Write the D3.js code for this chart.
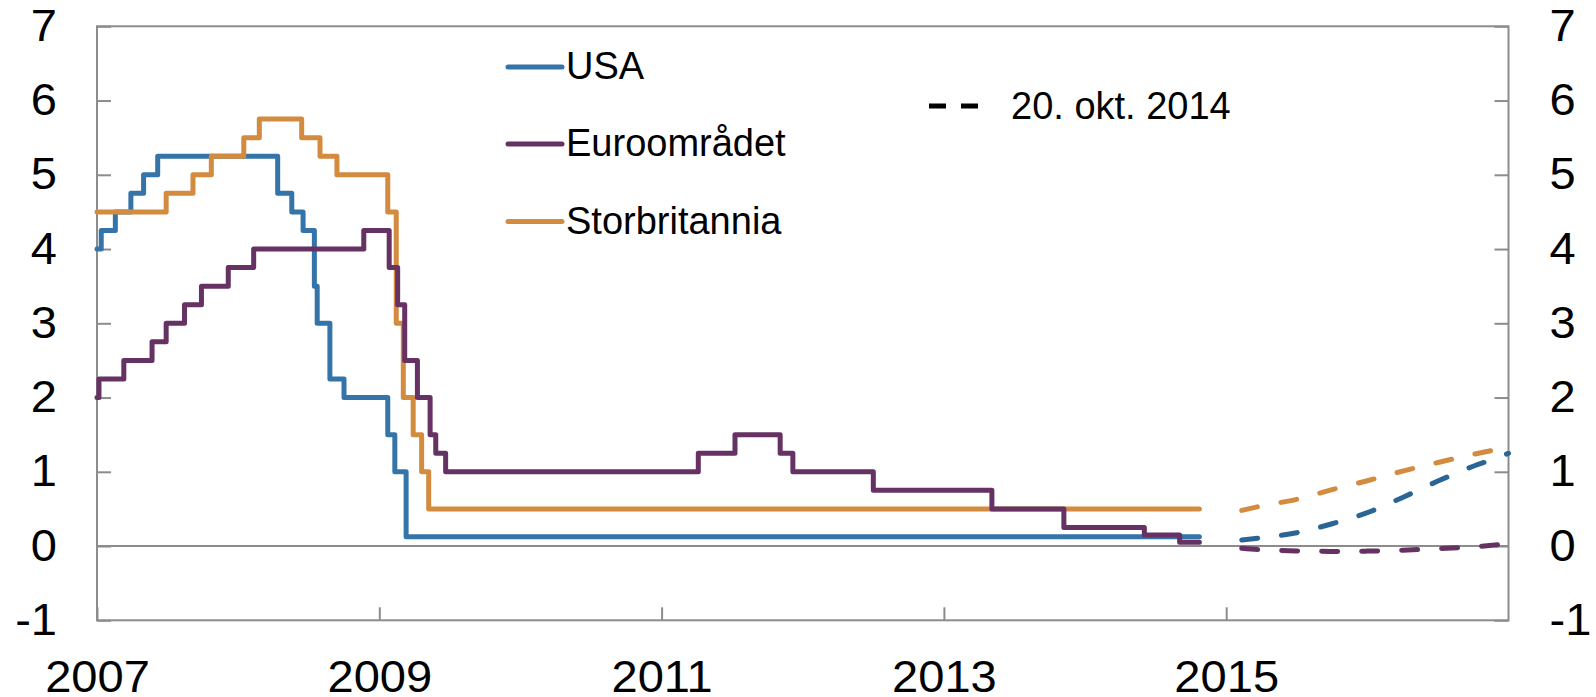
<!DOCTYPE html>
<html>
<head>
<meta charset="utf-8">
<script src="https://cdn.jsdelivr.net/npm/d3@7/dist/d3.min.js"></script>
<style>
  html, body { margin: 0; padding: 0; background: #fff; }
  svg { display: block; font-family: "Liberation Sans", Arial, sans-serif; }
</style>
</head>
<body>
<svg id="chart" width="1596" height="697"></svg>
<script>
// ---- Data (x in chart years, value applies from that point on: step-after) ----
const usaDates   = [2007.00, 2007.03, 2007.13, 2007.24, 2007.33, 2007.43, 2008.28, 2008.38, 2008.46, 2008.54, 2008.56, 2008.65, 2008.75, 2009.06, 2009.11, 2009.19, 2014.81];
const usaValues  = [4.00,    4.25,    4.50,    4.75,    5.00,    5.25,    4.75,    4.50,    4.25,    3.50,    3.00,    2.25,    2.00,    1.50,    1.00,    0.125,   0.125];

const euroDates  = [2007.00, 2007.014, 2007.19, 2007.39, 2007.49, 2007.62, 2007.74, 2007.93, 2008.11, 2008.89, 2009.07, 2009.13, 2009.18, 2009.27, 2009.36, 2009.40, 2009.47, 2011.26, 2011.52, 2011.84, 2011.93, 2012.50, 2013.34, 2013.85, 2014.42, 2014.67, 2014.81];
const euroValues = [2.00,    2.25,     2.50,    2.75,    3.00,    3.25,    3.50,    3.75,    4.00,    4.25,    3.75,    3.25,    2.50,    2.00,    1.50,    1.25,    1.00,    1.25,    1.50,    1.25,    1.00,    0.75,    0.50,    0.25,    0.15,    0.05,    0.05];

const ukDates    = [2007.00, 2007.49, 2007.68, 2007.81, 2008.04, 2008.15, 2008.45, 2008.58, 2008.70, 2009.06, 2009.12, 2009.17, 2009.24, 2009.30, 2009.35, 2014.81];
const ukValues   = [4.50,    4.75,    5.00,    5.25,    5.50,    5.75,    5.50,    5.25,    5.00,    4.50,    3.00,    2.00,    1.50,    1.00,    0.50,    0.50];

// Forward rates 20 Oct 2014 (dashed)
const fwdDates     = [2015.11, 2015.25, 2015.50, 2015.75, 2016.00, 2016.25, 2016.50, 2016.75, 2016.93, 2017.00];
const usaFwdValues = [0.08,    0.11,    0.18,    0.30,    0.45,    0.655,   0.875,   1.075,   1.195,   1.25];
const ukFwdValues  = [0.48,    0.54,    0.63,    0.76,    0.88,    1.01,    1.125,   1.235,   1.305,   null];
const euroFwdValues= [-0.03,   -0.05,   -0.065,  -0.072,  -0.068,  -0.055,  -0.035,  -0.01,   0.02,    0.035];

const yTicks = [-1, 0, 1, 2, 3, 4, 5, 6, 7];
const xTickLabels = [2007, 2009, 2011, 2013, 2015];

const legendNames = ["USA", "Euroområdet", "Storbritannia"];
const forecastLabel = "20. okt. 2014";

// ---- Styles ----
const colors = { usa: "#3574a8", euro: "#663163", uk: "#d38b3f" };
const fwdColors = { usa: "#2a6596", euro: "#663163", uk: "#d38b3f" };
const gridGray = "#8c8c8c";
const lw = 5;
const sx = 1.07; // horizontal stretch of tick labels

const svg = d3.select("#chart");
const x = d3.scaleLinear().domain([2007, 2017]).range([97, 1508.5]);
const y = d3.scaleLinear().domain([-1, 7]).range([620.3, 26.3]);

// zero line
svg.append("line")
  .attr("x1", x(2007)).attr("x2", x(2017))
  .attr("y1", y(0)).attr("y2", y(0))
  .attr("stroke", gridGray).attr("stroke-width", 2);

// axes
const fmt = d => String(d);
const gL = svg.append("g").attr("transform", `translate(${x(2007)},0)`)
  .call(d3.axisLeft(y).tickValues(yTicks).tickSizeInner(-14).tickSizeOuter(0).tickPadding(40).tickFormat(fmt));
const gR = svg.append("g").attr("transform", `translate(${x(2017)},0)`)
  .call(d3.axisRight(y).tickValues(yTicks).tickSizeInner(-14).tickSizeOuter(0).tickPadding(40).tickFormat(fmt));
const gB = svg.append("g").attr("transform", `translate(0,${y(-1)})`)
  .call(d3.axisBottom(x).tickValues(xTickLabels).tickSizeInner(-13).tickSizeOuter(0).tickPadding(40).tickFormat(fmt));

[gL, gR, gB].forEach(g => {
  g.select(".domain").remove();
  g.selectAll(".tick line").attr("stroke", gridGray).attr("stroke-width", 2);
  g.selectAll(".tick text").attr("fill", "#000").style("font-size", "44px")
    .style("font-family", '"Liberation Sans", Arial, sans-serif')
    .attr("transform", `scale(${sx},1)`);
});
gL.selectAll(".tick text").attr("x", -40 / sx);
gR.selectAll(".tick text").attr("x", 41 / sx);

// frame
svg.append("rect")
  .attr("x", x(2007)).attr("y", y(7))
  .attr("width", x(2017) - x(2007)).attr("height", y(-1) - y(7))
  .attr("fill", "none").attr("stroke", gridGray).attr("stroke-width", 2);

// lines
const stepLine = d3.line().x(d => x(d[0])).y(d => y(d[1])).curve(d3.curveStepAfter);
const smoothLine = d3.line().x(d => x(d[0])).y(d => y(d[1])).curve(d3.curveMonotoneX);

function drawStep(dates, vals, color) {
  svg.append("path").datum(d3.zip(dates, vals))
    .attr("d", stepLine).attr("fill", "none").attr("stroke", color)
    .attr("stroke-width", lw).attr("stroke-linejoin", "round").attr("stroke-linecap", "round");
}
function drawFwd(dates, vals, color) {
  svg.append("path").datum(d3.zip(dates, vals).filter(d => d[1] !== null))
    .attr("d", smoothLine).attr("fill", "none").attr("stroke", color)
    .attr("stroke-width", lw).attr("stroke-dasharray", "16,24").attr("stroke-linecap", "round");
}

drawStep(usaDates, usaValues, colors.usa);
drawStep(ukDates, ukValues, colors.uk);
drawStep(euroDates, euroValues, colors.euro);

drawFwd(fwdDates, ukFwdValues, fwdColors.uk);
drawFwd(fwdDates, usaFwdValues, fwdColors.usa);
drawFwd(fwdDates, euroFwdValues, fwdColors.euro);

// legend
const legColors = [colors.usa, colors.euro, colors.uk];
const legY = [67, 144, 221.5];
legendNames.forEach((name, i) => {
  svg.append("line").attr("x1", 508).attr("x2", 562).attr("y1", legY[i]).attr("y2", legY[i])
    .attr("stroke", legColors[i]).attr("stroke-width", lw).attr("stroke-linecap", "round");
  svg.append("text").attr("x", 566).attr("y", legY[i] + 12).text(name)
    .style("font-size", "38px").attr("fill", "#000");
});
svg.append("line").attr("x1", 929).attr("x2", 978).attr("y1", 106).attr("y2", 106)
  .attr("stroke", "#000").attr("stroke-width", lw).attr("stroke-dasharray", "17,15");
svg.append("text").attr("x", 1011).attr("y", 119).text(forecastLabel)
  .style("font-size", "38px").attr("fill", "#000");
</script>
</body>
</html>
